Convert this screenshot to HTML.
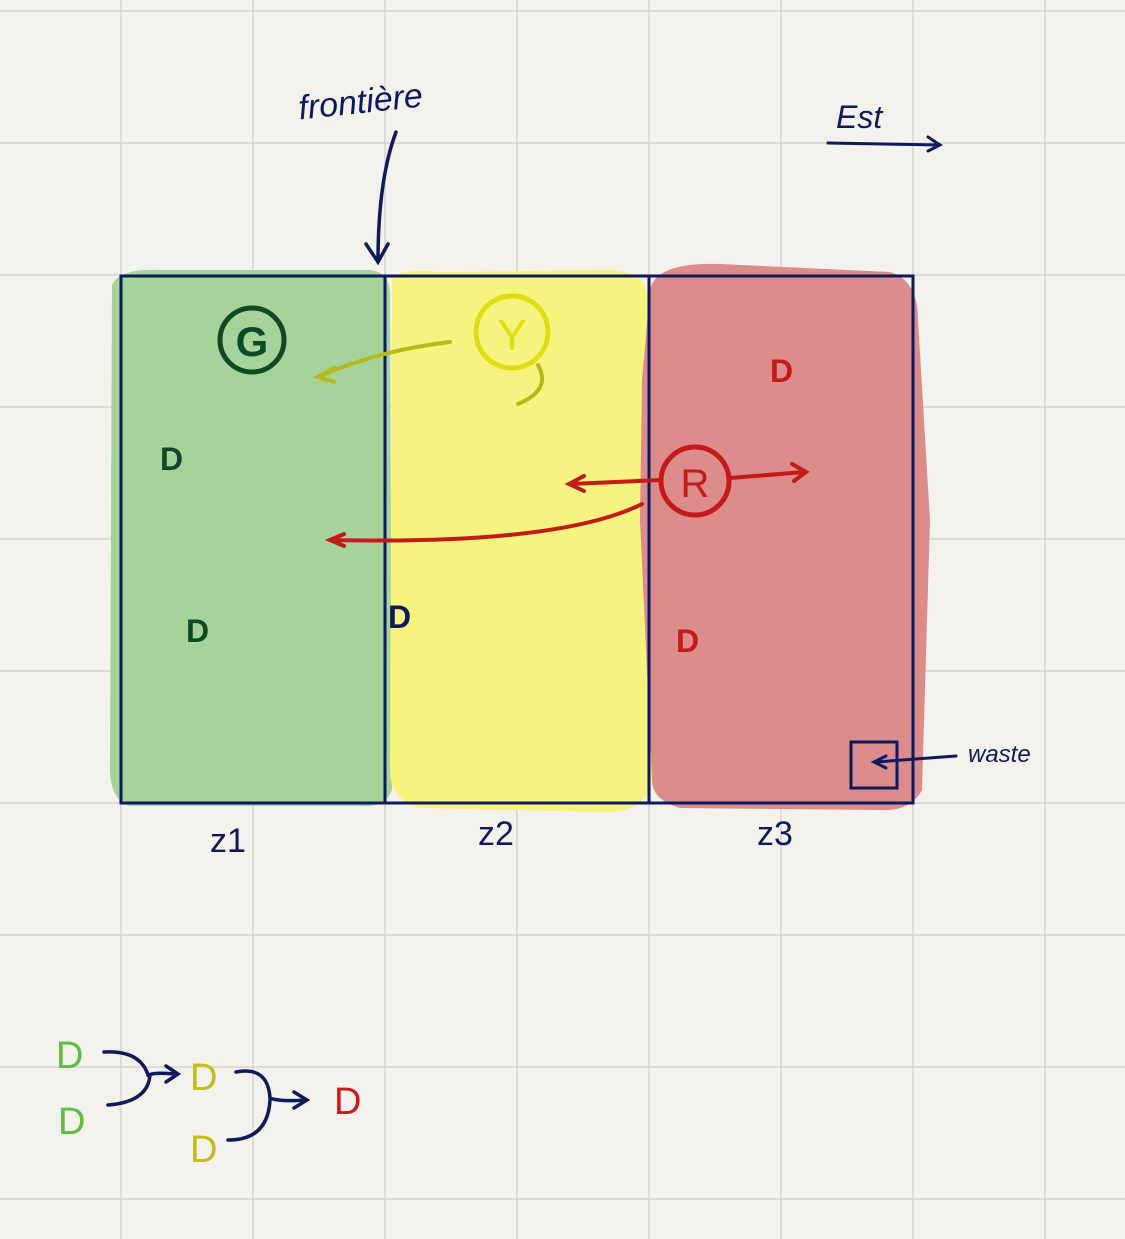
<!DOCTYPE html>
<html><head><meta charset="utf-8"><style>
html,body{margin:0;padding:0;background:#f4f2ed;}
svg{display:block;}
text{font-family:"Liberation Sans",sans-serif;}
</style></head><body>
<svg width="1125" height="1239" viewBox="0 0 1125 1239">
<rect width="1125" height="1239" fill="#f4f2ed"/>
<g id="grid" stroke="#cfcdc8" stroke-width="1.2"></g>

<!-- zone fills -->
<path d="M112,285 Q120,268 160,270 L370,270 Q392,272 390,300 L392,790 Q385,808 360,806 L130,806 Q108,800 110,760 Z" fill="#a6d39a"/>
<path d="M392,278 Q400,268 440,272 L610,270 Q648,272 648,300 L652,780 Q645,815 600,812 L420,808 Q390,800 390,770 Z" fill="#f7f37f"/>
<path d="M650,290 Q655,262 720,264 L890,272 Q918,280 918,320 L930,520 L922,790 Q910,812 880,810 L680,808 Q652,800 652,780 L640,520 L642,380 Z" fill="#dc8c8b"/>

<!-- boxes -->
<g fill="none" stroke="#0e1a5e" stroke-width="3">
<rect x="121" y="276" width="792" height="527"/>
<line x1="385" y1="276" x2="385" y2="803"/>
<line x1="649" y1="276" x2="649" y2="803"/>
<rect x="851" y="742" width="46" height="46"/>
</g>

<!-- frontiere annotation -->
<text x="298" y="112" font-size="34" fill="#0e1a5e" font-style="italic" transform="rotate(-6 370 100)">frontière</text>
<path d="M396,132 Q378,180 378,262 M366,244 L378,262 L388,244" fill="none" stroke="#0e1a5e" stroke-width="3.5" stroke-linecap="round"/>

<!-- Est -->
<text x="836" y="128" font-size="32" fill="#0e1a5e" font-style="italic">Est</text>
<path d="M828,143 L940,145 M928,137 L940,145 L928,151" fill="none" stroke="#0e1a5e" stroke-width="3" stroke-linecap="round"/>

<!-- G -->
<circle cx="252" cy="340" r="32" fill="none" stroke="#0d4a25" stroke-width="5"/>
<text x="252" y="356" font-size="42" font-weight="bold" fill="#0d4a25" text-anchor="middle">G</text>

<!-- Y -->
<circle cx="512" cy="332" r="36" fill="none" stroke="#dede12" stroke-width="5"/>
<text x="512" y="350" font-size="44" fill="#dede12" text-anchor="middle">Y</text>
<path d="M450,342 Q380,350 320,376 M334,368 L318,377 L334,382" fill="none" stroke="#b8b81a" stroke-width="4" stroke-linecap="round"/>
<path d="M538,365 Q552,390 518,404" fill="none" stroke="#b8b81a" stroke-width="4" stroke-linecap="round"/>

<!-- R -->
<circle cx="695" cy="481" r="34" fill="none" stroke="#c41a1a" stroke-width="5"/>
<text x="695" y="497" font-size="40" fill="#c41a1a" text-anchor="middle">R</text>
<path d="M660,480 L570,484 M584,476 L569,484 L584,491" fill="none" stroke="#c41a1a" stroke-width="4" stroke-linecap="round"/>
<path d="M730,478 L805,472 M792,464 L806,472 L794,481" fill="none" stroke="#c41a1a" stroke-width="4" stroke-linecap="round"/>
<path d="M642,504 Q560,545 330,540 M344,534 L330,540 L344,546" fill="none" stroke="#c41a1a" stroke-width="4" stroke-linecap="round"/>

<!-- D markers -->
<g font-size="32" font-weight="bold">
<text x="160" y="470" fill="#0d4a25">D</text>
<text x="186" y="642" fill="#0d4a25">D</text>
<text x="388" y="628" fill="#0e1a5e">D</text>
<text x="770" y="382" fill="#c41a1a">D</text>
<text x="676" y="652" fill="#c41a1a">D</text>
</g>

<!-- waste -->
<path d="M956,756 L876,762 M886,756 L874,762 L886,768" fill="none" stroke="#0e1a5e" stroke-width="3" stroke-linecap="round"/>
<text x="968" y="762" font-size="24" fill="#0e1a5e" font-style="italic">waste</text>

<!-- zone labels -->
<g font-size="34" fill="#0e1a5e">
<text x="210" y="852">z1</text>
<text x="478" y="845">z2</text>
<text x="757" y="845">z3</text>
</g>

<!-- legend: merge -->
<g font-size="38">
<text x="56" y="1068" fill="#5cbf3e">D</text>
<text x="58" y="1134" fill="#5cbf3e">D</text>
<text x="190" y="1090" fill="#c2bd18">D</text>
<text x="190" y="1162" fill="#c2bd18">D</text>
<text x="334" y="1114" fill="#d21818">D</text>
</g>
<g fill="none" stroke="#0e1a5e" stroke-width="3.5" stroke-linecap="round">
<path d="M104,1052 Q140,1050 148,1075 Q155,1072 176,1074 M108,1105 Q148,1102 150,1075 M166,1066 L178,1074 L166,1082"/>
<path d="M236,1072 Q268,1066 270,1098 Q280,1102 306,1100 M228,1140 Q268,1140 270,1100 M294,1092 L307,1100 L294,1108"/>
</g>
</svg>
<script>
var g=document.getElementById('grid');
var xs=[121,253,385,517,649,781,913,1045];
var ys=[11,143,275,407,539,671,803,935,1067,1199];
xs.forEach(function(x){var l=document.createElementNS('http://www.w3.org/2000/svg','line');
l.setAttribute('x1',x);l.setAttribute('x2',x);l.setAttribute('y1',0);l.setAttribute('y2',1239);


g.appendChild(l);});
ys.forEach(function(y){var l=document.createElementNS('http://www.w3.org/2000/svg','line');
l.setAttribute('y1',y);l.setAttribute('y2',y);l.setAttribute('x1',0);l.setAttribute('x2',1125);


g.appendChild(l);});
</script>
</body></html>
